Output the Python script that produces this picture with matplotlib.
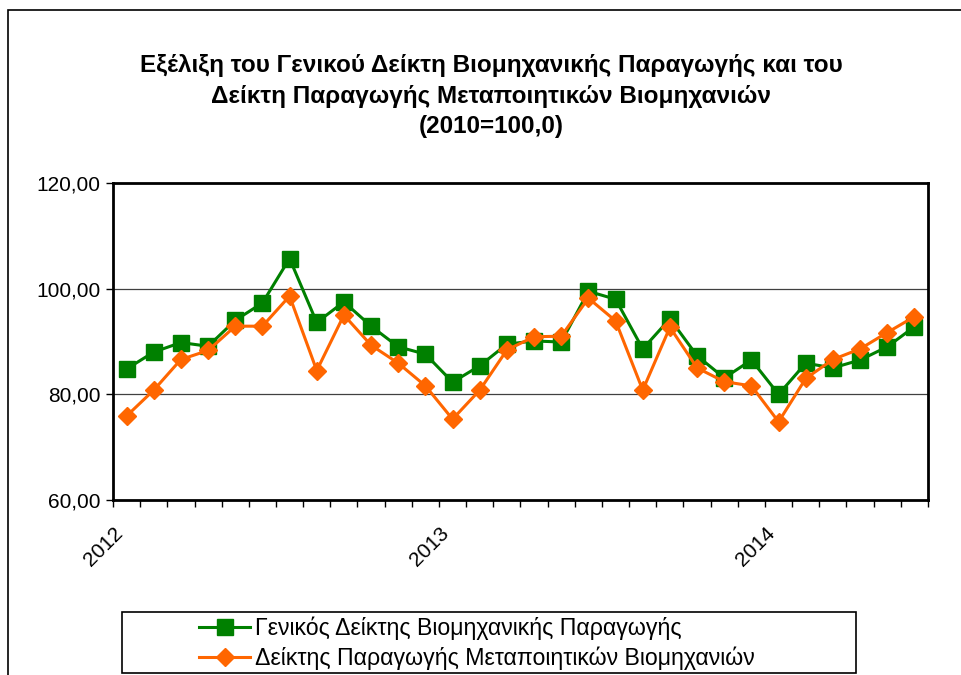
import matplotlib
matplotlib.use("Agg")
import matplotlib.pyplot as plt
from matplotlib.patches import Rectangle
from matplotlib.lines import Line2D
import numpy as np

plt.rcParams['font.family'] = ['Liberation Sans', 'DejaVu Sans']

months = [f"{y}-{m:02d}" for y in (2012, 2013, 2014) for m in range(1, 13)][:30]
year_labels = ["2012", "2013", "2014"]
year_label_pos = [0, 12, 24]

general_index = [84.8, 88.0, 89.8, 89.1, 94.0, 97.3, 105.7, 93.6, 97.5, 92.9,
                 89.0, 87.6, 82.3, 85.4, 89.5, 90.1, 89.9, 99.5, 98.0, 88.6,
                 94.3, 87.3, 83.1, 86.5, 80.0, 85.9, 85.0, 86.5, 89.0, 92.8]
manuf_index = [75.9, 80.8, 86.6, 88.3, 92.9, 92.9, 98.6, 84.5, 95.0, 89.3,
               85.9, 81.6, 75.3, 80.8, 88.4, 90.9, 91.0, 98.2, 93.9, 80.8,
               92.7, 85.0, 82.4, 81.6, 74.8, 83.0, 86.6, 88.6, 91.7, 94.7]

series_names = ["Γενικός Δείκτης Βιομηχανικής Παραγωγής",
                "Δείκτης Παραγωγής Μεταποιητικών Βιομηχανιών"]
title = ("Εξέλιξη του Γενικού Δείκτη Βιομηχανικής Παραγωγής και του\n"
         "Δείκτη Παραγωγής Μεταποιητικών Βιομηχανιών\n(2010=100,0)")

W, H = 961, 675
fig = plt.figure(figsize=(W / 100, H / 100), dpi=100)

def fx(px):
    return px / W

def fy(py):
    return 1 - py / H

# outer chart border
fig.patches.append(Rectangle((fx(8), fy(700)), fx(1000), (700 - 10) / H,
                             transform=fig.transFigure, fill=False,
                             edgecolor='black', linewidth=1.2))

ax = fig.add_axes([fx(113), fy(500), fx(928 - 113), (500 - 183) / H])
x = np.arange(len(months))
green = '#008000'
orange = '#FF6600'
ax.plot(x, general_index, color=green, lw=2.2, marker='s', ms=11,
        markeredgecolor=green, zorder=3, label=series_names[0])
ax.plot(x, manuf_index, color=orange, lw=2.2, marker='D', ms=9.5,
        markeredgecolor=orange, zorder=4, label=series_names[1])

ax.set_ylim(60, 120)
ax.set_xlim(-0.5, len(months) - 0.5)
yt = [60, 80, 100, 120]
ax.set_yticks(yt)
ax.set_yticklabels([f"{v:.2f}".replace('.', ',') for v in yt], fontsize=15)
for v in (80, 100):
    ax.axhline(v, color='#404040', lw=0.9, zorder=1)
ax.tick_params(axis='y', length=5, width=1, pad=4)

ax.set_xticks(year_label_pos)
ax.set_xticklabels(year_labels, rotation=45, ha='right', va='top', fontsize=15)
ax.tick_params(axis='x', which='major', length=0, pad=17)
ax.set_xticks(np.arange(-0.5, len(months)), minor=True)
ax.tick_params(axis='x', which='minor', length=5, width=1)
for s in ax.spines.values():
    s.set_linewidth(2)

fig.text(fx(491), fy(96), title, ha='center', va='center', fontsize=17.5,
         fontweight='bold', linespacing=1.4)

# legend frame
fig.patches.append(Rectangle((fx(122), fy(673)), fx(856 - 122), (673 - 612) / H,
                             transform=fig.transFigure, fill=False,
                             edgecolor='black', linewidth=1.2))
h1 = Line2D([], [], color=green, lw=2.2, marker='s', ms=11)
h2 = Line2D([], [], color=orange, lw=2.2, marker='D', ms=9.5)
fig.legend([h1, h2], series_names, loc='center',
           bbox_to_anchor=(fx(477), fy(643)), frameon=False, fontsize=16.7,
           handlelength=2.2, handletextpad=0.2, labelspacing=0.28,
           borderpad=0)

fig.savefig("out.png", dpi=100)
